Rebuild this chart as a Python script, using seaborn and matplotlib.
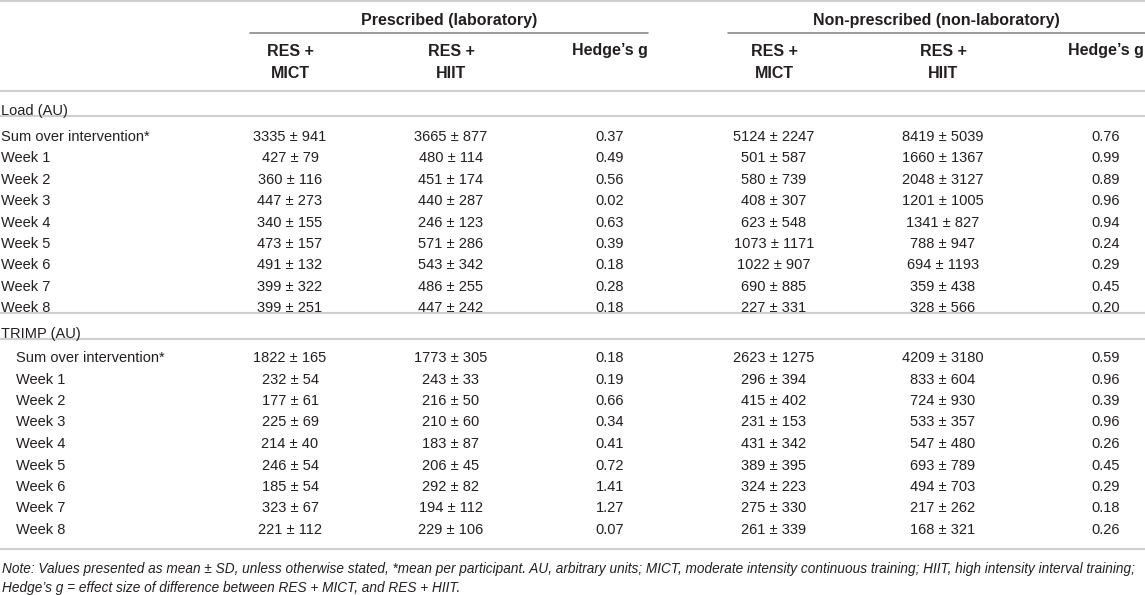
import matplotlib
matplotlib.use('Agg')
import matplotlib.pyplot as plt
import seaborn as sns
from matplotlib import font_manager as fm

# Zeilenbeschriftungen
row_labels = ['Sum over intervention*', 'Week 1', 'Week 2', 'Week 3', 'Week 4',
              'Week 5', 'Week 6', 'Week 7', 'Week 8']

# Load (AU): Mittelwert und SD je Gruppe
load_mict_lab = [3335, 427, 360, 447, 340, 473, 491, 399, 399]
load_mict_lab_sd = [941, 79, 116, 273, 155, 157, 132, 322, 251]
load_hiit_lab = [3665, 480, 451, 440, 246, 571, 543, 486, 447]
load_hiit_lab_sd = [877, 114, 174, 287, 123, 286, 342, 255, 242]
load_g_lab = [0.37, 0.49, 0.56, 0.02, 0.63, 0.39, 0.18, 0.28, 0.18]
load_mict_non = [5124, 501, 580, 408, 623, 1073, 1022, 690, 227]
load_mict_non_sd = [2247, 587, 739, 307, 548, 1171, 907, 885, 331]
load_hiit_non = [8419, 1660, 2048, 1201, 1341, 788, 694, 359, 328]
load_hiit_non_sd = [5039, 1367, 3127, 1005, 827, 947, 1193, 438, 566]
load_g_non = [0.76, 0.99, 0.89, 0.96, 0.94, 0.24, 0.29, 0.45, 0.20]

# TRIMP (AU)
trimp_mict_lab = [1822, 232, 177, 225, 214, 246, 185, 323, 221]
trimp_mict_lab_sd = [165, 54, 61, 69, 40, 54, 54, 67, 112]
trimp_hiit_lab = [1773, 243, 216, 210, 183, 206, 292, 194, 229]
trimp_hiit_lab_sd = [305, 33, 50, 60, 87, 45, 82, 112, 106]
trimp_g_lab = [0.18, 0.19, 0.66, 0.34, 0.41, 0.72, 1.41, 1.27, 0.07]
trimp_mict_non = [2623, 296, 415, 231, 431, 389, 324, 275, 261]
trimp_mict_non_sd = [1275, 394, 402, 153, 342, 395, 223, 330, 339]
trimp_hiit_non = [4209, 833, 724, 533, 547, 693, 494, 217, 168]
trimp_hiit_non_sd = [3180, 604, 930, 357, 480, 789, 703, 262, 321]
trimp_g_non = [0.59, 0.96, 0.39, 0.96, 0.26, 0.45, 0.29, 0.18, 0.26]

group_titles = ['Prescribed (laboratory)', 'Non-prescribed (non-laboratory)']
col_titles = ['RES +\nMICT', 'RES +\nHIIT', 'Hedge\u2019s g'] * 2
note_lines = [
    'Note: Values presented as mean \u00b1 SD, unless otherwise stated, *mean per participant. AU, arbitrary units; '
    'MICT, moderate intensity continuous training; HIIT, high intensity interval training;',
    'Hedge\u2019s g = effect size of difference between RES + MICT, and RES + HIIT.',
]

sns.set_theme(style='white')
plt.rcParams['font.family'] = ['Liberation Sans', 'DejaVu Sans']

names = {f.name for f in fm.fontManager.ttflist}
note_family = ['Liberation Sans Narrow'] if 'Liberation Sans Narrow' in names else ['Liberation Sans']
note_size = 11.3 if note_family[0] == 'Liberation Sans Narrow' else 9.8

fig = plt.figure(figsize=(11.45, 5.95), dpi=100)
ax = fig.add_axes([0, 0, 1, 1])
ax.set_xlim(0, 1145)
ax.set_ylim(595, 0)
ax.axis('off')

txt = '#231f20'
light = '#cfcfcf'
dark = '#8a8a8a'
col_x = [290, 451, 610, 774, 943, 1106]
hsize = 11.5

# Kopf
ax.axhline(1, color=light, lw=1.5)
ax.text(449, 21, group_titles[0], ha='center', va='center', fontsize=hsize, fontweight='bold', color=txt)
ax.text(936, 21, group_titles[1], ha='center', va='center', fontsize=hsize, fontweight='bold', color=txt)
ax.plot([250, 648], [33, 33], color=dark, lw=1.2)
ax.plot([728, 1145], [33, 33], color=dark, lw=1.2)
for x, t in zip(col_x, col_titles):
    if '\n' in t:
        a, b = t.split('\n')
        ax.text(x, 51, a, ha='center', va='center', fontsize=hsize, fontweight='bold', color=txt)
        ax.text(x, 73, b, ha='center', va='center', fontsize=hsize, fontweight='bold', color=txt)
    else:
        ax.text(x, 51, t, ha='center', va='center', fontsize=hsize, fontweight='bold', color=txt)
ax.axhline(91, color=light, lw=1.5)


def fmt(m, s):
    return f'{m} \u00b1 {s}'


def block(title, y_title, y_line, y0, step, indent, cols):
    ax.text(1, y_title, title, ha='left', va='baseline', fontsize=10.5, color=txt)
    ax.axhline(y_line, color=light, lw=1.5)
    for i, lab in enumerate(row_labels):
        y = y0 + i * step
        ax.text(1 + indent, y, lab, ha='left', va='center', fontsize=10.5, color=txt)
        vals = [fmt(cols[0][i], cols[1][i]), fmt(cols[2][i], cols[3][i]), f'{cols[4][i]:.2f}',
                fmt(cols[5][i], cols[6][i]), fmt(cols[7][i], cols[8][i]), f'{cols[9][i]:.2f}']
        for x, v in zip(col_x, vals):
            ax.text(x, y, v, ha='center', va='center', fontsize=10.5, color=txt)


block('Load (AU)', 115, 116, 137, 21.4, 0,
      [load_mict_lab, load_mict_lab_sd, load_hiit_lab, load_hiit_lab_sd, load_g_lab,
       load_mict_non, load_mict_non_sd, load_hiit_non, load_hiit_non_sd, load_g_non])
ax.axhline(313, color=light, lw=1.5)
block('TRIMP (AU)', 338, 339, 358, 21.5, 15,
      [trimp_mict_lab, trimp_mict_lab_sd, trimp_hiit_lab, trimp_hiit_lab_sd, trimp_g_lab,
       trimp_mict_non, trimp_mict_non_sd, trimp_hiit_non, trimp_hiit_non_sd, trimp_g_non])
ax.axhline(549, color=light, lw=1.5)

for y, line in zip([569, 588], note_lines):
    ax.text(2, y, line, ha='left', va='center', fontsize=note_size, style='italic',
            family=note_family, color=txt)

fig.savefig('out.png', dpi=100)
